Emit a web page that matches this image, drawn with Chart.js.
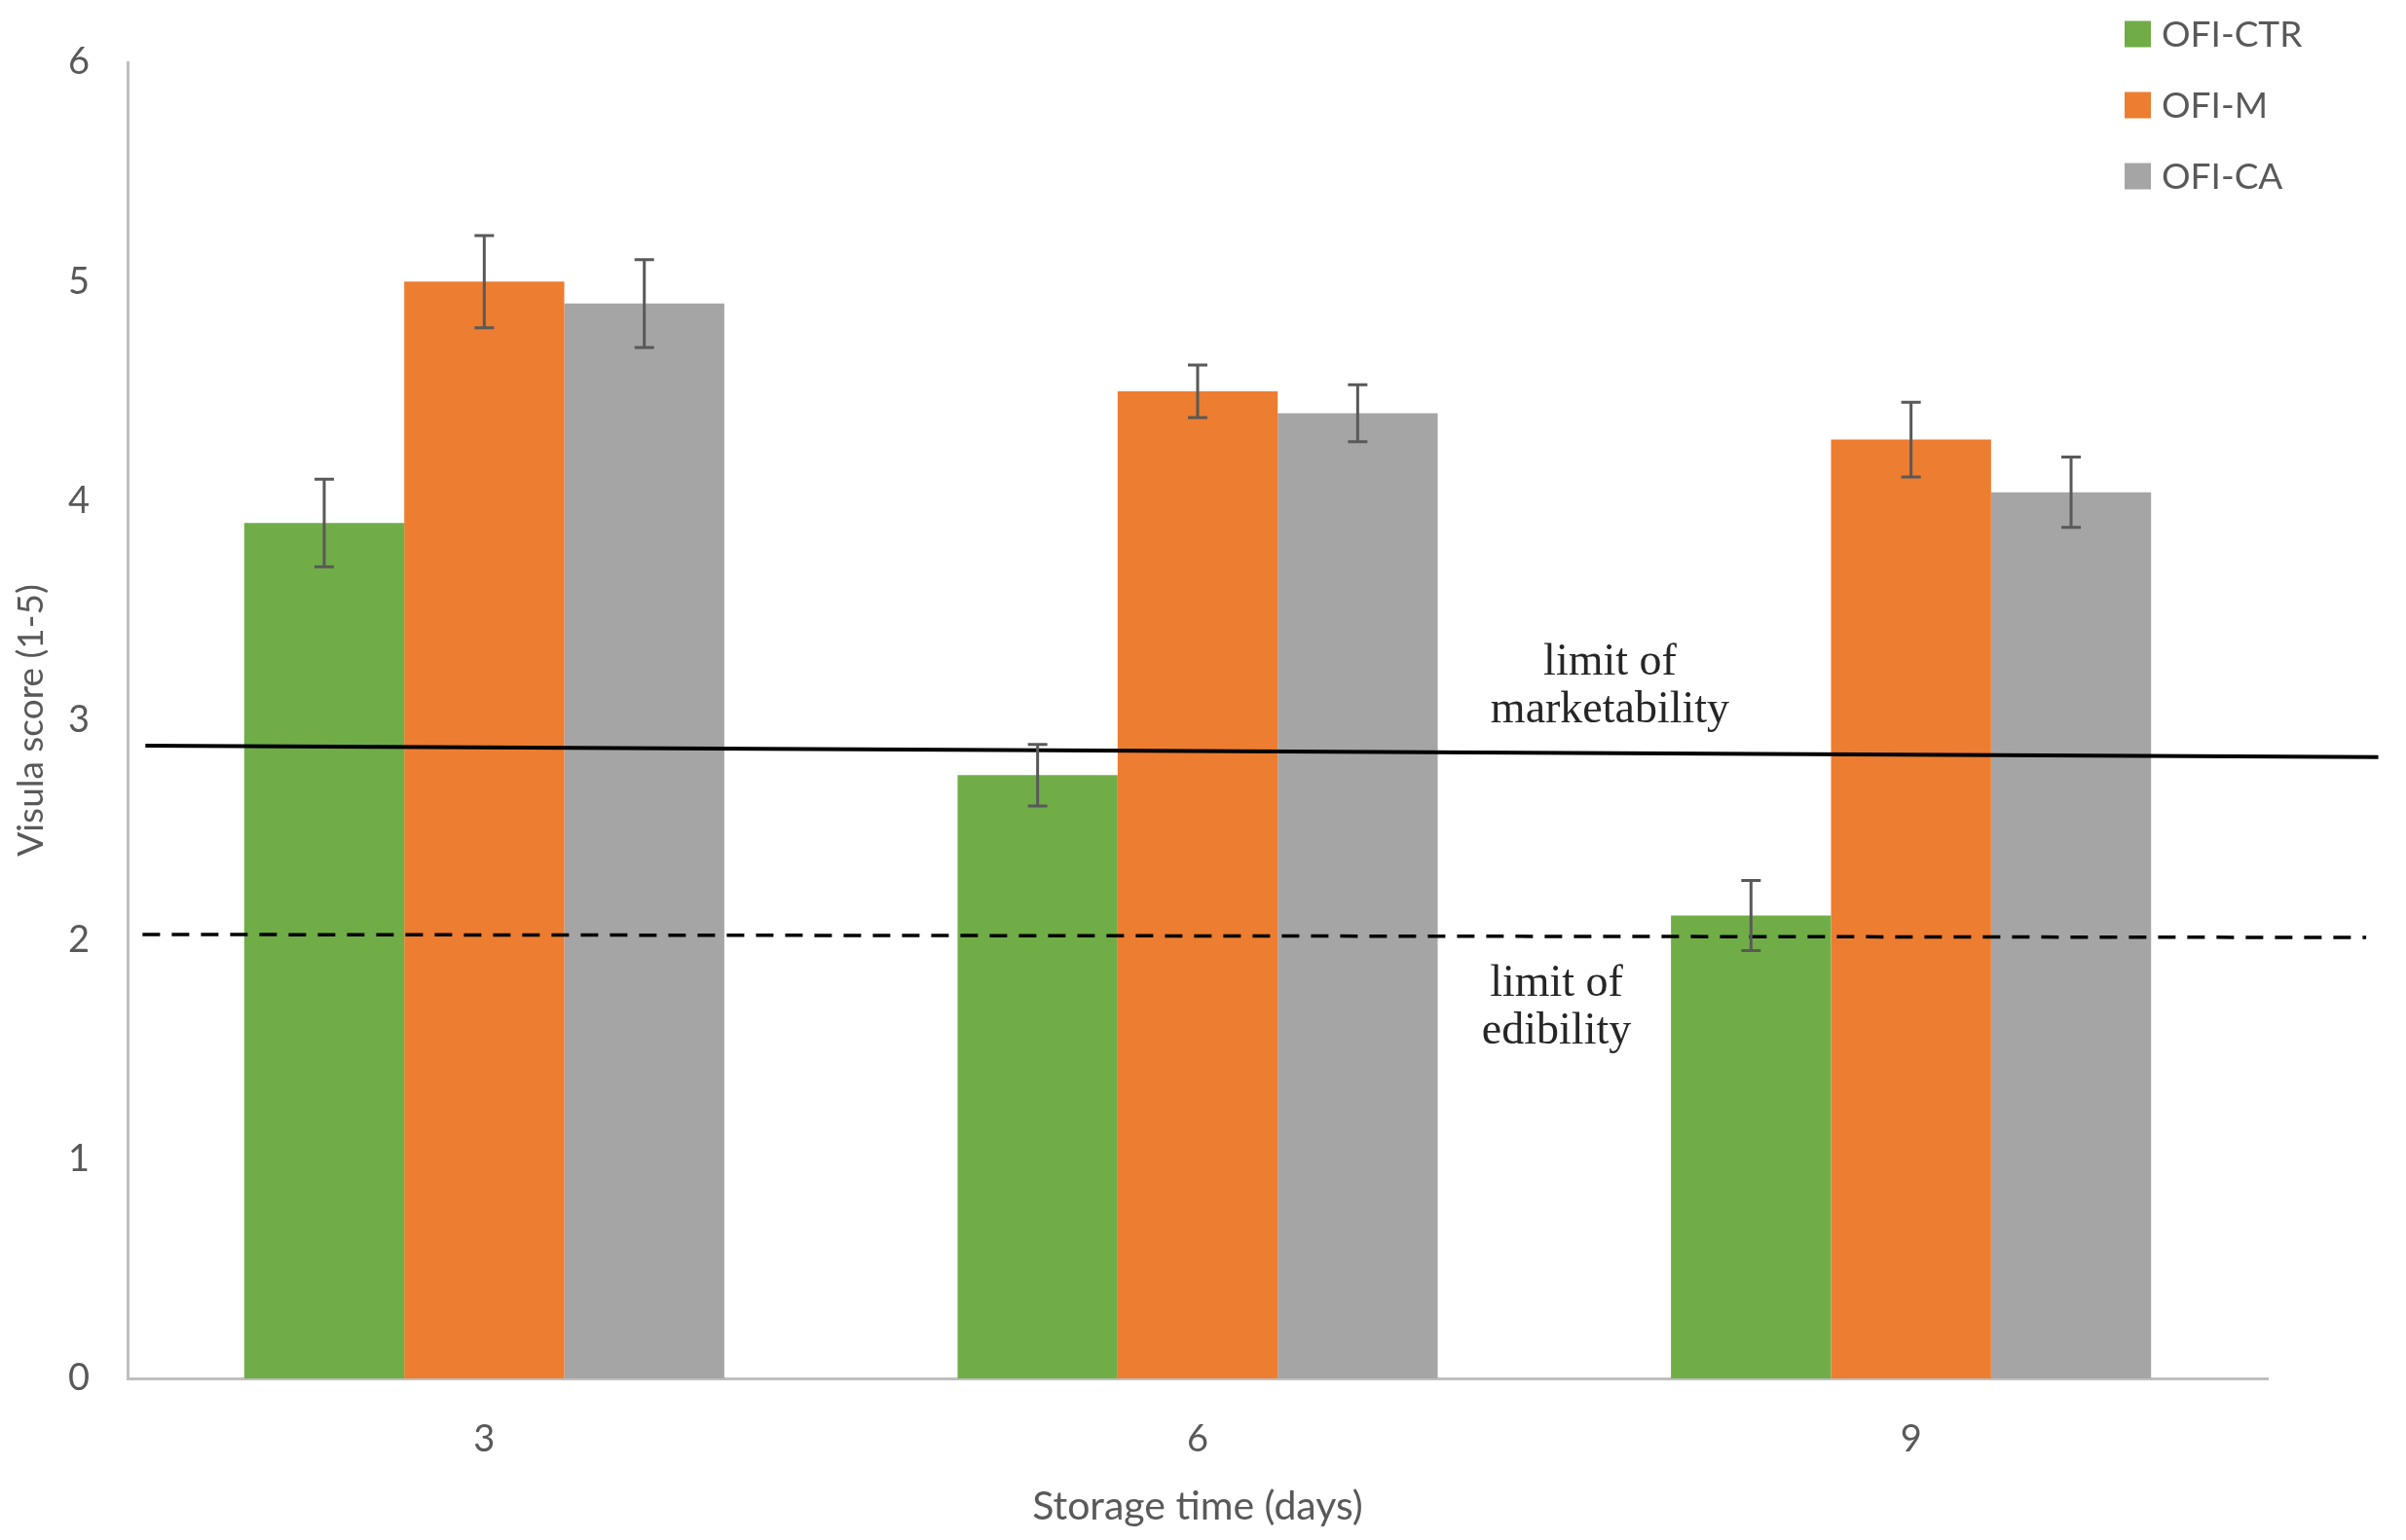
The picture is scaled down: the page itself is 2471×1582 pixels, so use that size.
<!DOCTYPE html>
<html>
<head>
<meta charset="utf-8">
<script src="https://cdn.jsdelivr.net/npm/chart.js@4/dist/chart.umd.min.js"></script>
<style>
  html, body { margin: 0; padding: 0; background: #fff; }
  canvas { display: block; }
</style>
</head>
<body>
<canvas id="visualChart" width="2471" height="1582" style="width:2471px;height:1582px"></canvas>
<script>
// Storage time categories
const days = ["3", "6", "9"];
const seriesNames = ["OFI-CTR", "OFI-M", "OFI-CA"];

// Mean visual score per treatment
const ctrScores = [3.90, 2.75, 2.11];
const mScores = [5.00, 4.50, 4.28];
const caScores = [4.90, 4.40, 4.04];

// Error bar half-heights
const ctrErr = [0.20, 0.14, 0.16];
const mErr = [0.21, 0.12, 0.17];
const caErr = [0.20, 0.13, 0.16];

// Limit lines (x in category index units, y in score)
const limitMarketX = [-0.475, 2.655];
const limitMarketY = [2.885, 2.832];
const limitEdibleX = [-0.479, 2.638];
const limitEdibleY = [2.024, 2.010];

const yTicks = [0, 1, 2, 3, 4, 5, 6];

const colors = ["#70AD47", "#ED7D31", "#A5A5A5"];
const errors = [ctrErr, mErr, caErr];

// limit lines + error bars, drawn on top of the bars
const overlays = {
  id: "overlays",
  afterDatasetsDraw(chart) {
    const ctx = chart.ctx;
    const x = chart.scales.x, y = chart.scales.y;
    ctx.save();

    ctx.strokeStyle = "#000";
    ctx.lineWidth = 4;
    ctx.beginPath();
    ctx.moveTo(x.getPixelForValue(limitMarketX[0]), y.getPixelForValue(limitMarketY[0]));
    ctx.lineTo(x.getPixelForValue(limitMarketX[1]), y.getPixelForValue(limitMarketY[1]));
    ctx.stroke();

    ctx.lineWidth = 3.5;
    ctx.setLineDash([18, 12]);
    ctx.beginPath();
    ctx.moveTo(x.getPixelForValue(limitEdibleX[0]), y.getPixelForValue(limitEdibleY[0]));
    ctx.lineTo(x.getPixelForValue(limitEdibleX[1]), y.getPixelForValue(limitEdibleY[1]));
    ctx.stroke();
    ctx.setLineDash([]);

    ctx.strokeStyle = "#595959";
    ctx.lineWidth = 3;
    errors.forEach((errs, i) => {
      const meta = chart.getDatasetMeta(i);
      const values = chart.data.datasets[i].data;
      meta.data.forEach((bar, j) => {
        const top = y.getPixelForValue(values[j] + errs[j]);
        const bottom = y.getPixelForValue(values[j] - errs[j]);
        ctx.beginPath();
        ctx.moveTo(bar.x, top); ctx.lineTo(bar.x, bottom);
        ctx.moveTo(bar.x - 10, top); ctx.lineTo(bar.x + 10, top);
        ctx.moveTo(bar.x - 10, bottom); ctx.lineTo(bar.x + 10, bottom);
        ctx.stroke();
      });
    });
    ctx.restore();
  }
};

const annotations = {
  id: "annotations",
  afterDraw(chart) {
    const ctx = chart.ctx;
    const x = chart.scales.x, y = chart.scales.y;
    ctx.save();
    ctx.fillStyle = "#262626";
    ctx.font = "46px 'Liberation Serif'";
    ctx.textAlign = "center";
    ctx.textBaseline = "alphabetic";
    let cx = x.getPixelForValue(1.578);
    ctx.fillText("limit of", cx, y.getPixelForValue(3.21));
    ctx.fillText("marketability", cx, y.getPixelForValue(2.99));
    cx = x.getPixelForValue(1.503);
    ctx.fillText("limit of", cx, y.getPixelForValue(1.745));
    ctx.fillText("edibility", cx, y.getPixelForValue(1.528));

    // legend, stacked top right
    ctx.font = "37px Lato";
    ctx.textAlign = "left";
    ctx.textBaseline = "middle";
    chart.data.datasets.forEach((ds, i) => {
      const cy = 35 + i * 73;
      ctx.fillStyle = ds.backgroundColor;
      ctx.fillRect(2182, cy - 13.5, 27, 27);
      ctx.fillStyle = "#595959";
      ctx.fillText(ds.label, 2220, cy + 1);
    });
    ctx.restore();
  }
};

const barSet = (label, data, color) => ({
  label: label,
  data: data,
  backgroundColor: color,
  borderWidth: 0,
  barPercentage: 1.0,
  categoryPercentage: 0.673
});

new Chart(document.getElementById("visualChart").getContext("2d"), {
  type: "bar",
  data: {
    labels: days,
    datasets: [
      barSet(seriesNames[0], ctrScores, colors[0]),
      barSet(seriesNames[1], mScores, colors[1]),
      barSet(seriesNames[2], caScores, colors[2])
    ]
  },
  options: {
    responsive: false,
    devicePixelRatio: 1,
    animation: false,
    layout: { padding: { left: 0, top: 64, right: 142, bottom: 0 } },
    plugins: { legend: { display: false }, tooltip: { enabled: false } },
    scales: {
      x: {
        offset: true,
        grid: { display: false, drawTicks: false },
        border: { display: true, color: "#BFBFBF", width: 3 },
        ticks: { color: "#595959", font: { family: "Lato", size: 38 }, padding: 40 },
        title: {
          display: true, text: "Storage time (days)", color: "#595959",
          font: { family: "Lato", size: 41 }, padding: { top: 0, bottom: 10 }
        },
        afterFit: s => { s.height = 166; }
      },
      y: {
        min: 0, max: 6,
        grid: { display: false, drawTicks: false },
        border: { display: true, color: "#BFBFBF", width: 3 },
        afterBuildTicks: s => { s.ticks = yTicks.map(v => ({ value: v })); },
        ticks: { color: "#595959", font: { family: "Lato", size: 38 }, padding: 39 },
        title: {
          display: true, text: "Visula score (1-5)", color: "#595959",
          font: { family: "Lato", size: 37 }, padding: { top: 10, bottom: 0 }
        },
        afterFit: s => { s.width = 131; }
      }
    }
  },
  plugins: [overlays, annotations]
});
</script>
</body>
</html>
